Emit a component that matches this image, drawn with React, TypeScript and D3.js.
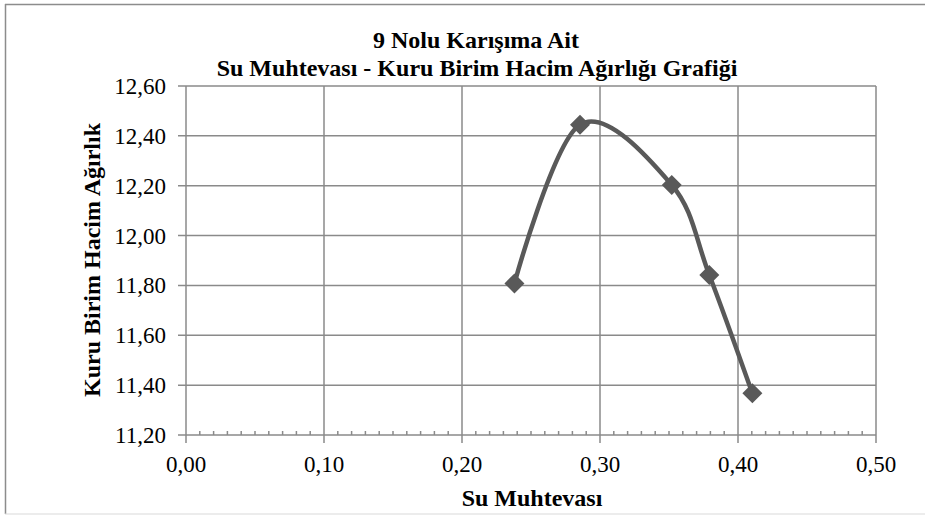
import React from "react";
import * as d3 from "d3";

const waterContent = [0.238, 0.2855, 0.352, 0.3792, 0.4104];
const dryUnitWeight = [11.808, 12.445, 12.203, 11.842, 11.367];
const xTicks = [0, 0.1, 0.2, 0.3, 0.4, 0.5];
const yTicks = [11.2, 11.4, 11.6, 11.8, 12.0, 12.2, 12.4, 12.6];
const titleLines = ["9 Nolu Karışıma Ait", "Su Muhtevası - Kuru Birim Hacim Ağırlığı Grafiği"];
const xLabel = "Su Muhtevası";
const yLabel = "Kuru Birim Hacim Ağırlık";

const W = 925;
const H = 515;
const FONT = "Liberation Serif, Times New Roman, DejaVu Serif, serif";
const GRID = "#8a8a8a";
const LINE = "#595959";

export default function App() {
  const x = d3.scaleLinear().domain([0, 0.5]).range([186, 876]);
  const y = d3.scaleLinear().domain([11.2, 12.6]).range([435, 86]);
  const pts = waterContent.map((v, i) => [x(v), y(dryUnitWeight[i])] as [number, number]);
  const line = d3.line().curve(d3.curveCardinal.tension(0))(pts) || "";
  const minor = d3.range(1, 50).filter((i) => i % 10 !== 0).map((i) => i / 100);
  const fmt = (v: number, d: number) => v.toFixed(d).replace(".", ",");
  const diamond = (cx: number, cy: number, r: number) =>
    `M${cx},${cy - r}L${cx + r},${cy}L${cx},${cy + r}L${cx - r},${cy}Z`;
  const textStyle = { fontFamily: FONT };

  return (
    <svg width={W} height={H} style={{ position: "absolute", left: 0, top: 0, fontFamily: FONT }}>
      <rect x={0} y={0} width={W} height={H} fill="#fff" />
      <line x1={5} y1={4.5} x2={W} y2={4.5} stroke="#8c8c8c" strokeWidth={1.5} />
      <line x1={5.5} y1={4} x2={5.5} y2={514} stroke="#8c8c8c" strokeWidth={1.5} />
      <line x1={5} y1={514} x2={W} y2={514} stroke="#d9d9d9" strokeWidth={1} />

      {yTicks.map((t) => (
        <g key={"y" + t}>
          <line x1={178} x2={876} y1={y(t)} y2={y(t)} stroke={GRID} strokeWidth={1.5} />
          <text x={166} y={y(t)} dy="0.35em" textAnchor="end" fontSize={23} style={textStyle}>
            {fmt(t, 2)}
          </text>
        </g>
      ))}
      {xTicks.map((t) => (
        <g key={"x" + t}>
          <line x1={x(t)} x2={x(t)} y1={86} y2={443} stroke={GRID} strokeWidth={1.5} />
          <text x={x(t)} y={472} textAnchor="middle" fontSize={23} style={textStyle}>
            {fmt(t, 2)}
          </text>
        </g>
      ))}
      {minor.map((t) => (
        <line key={"m" + t} x1={x(t)} x2={x(t)} y1={431} y2={435} stroke={GRID} strokeWidth={1.5} />
      ))}

      <path d={line} fill="none" stroke={LINE} strokeWidth={4.5} />
      {pts.map(([cx, cy], i) => (
        <path key={"p" + i} d={diamond(cx, cy, 10)} fill={LINE} />
      ))}

      <text x={476} y={48} textAnchor="middle" fontSize={24} fontWeight="bold" style={textStyle}>
        {titleLines[0]}
      </text>
      <text x={477} y={76} textAnchor="middle" fontSize={24} fontWeight="bold" style={textStyle}>
        {titleLines[1]}
      </text>
      <text x={532} y={506} textAnchor="middle" fontSize={24} fontWeight="bold" style={textStyle}>
        {xLabel}
      </text>
      <text
        transform={`translate(100,260) rotate(-90)`}
        textAnchor="middle"
        fontSize={24}
        fontWeight="bold"
        style={textStyle}
      >
        {yLabel}
      </text>
    </svg>
  );
}
